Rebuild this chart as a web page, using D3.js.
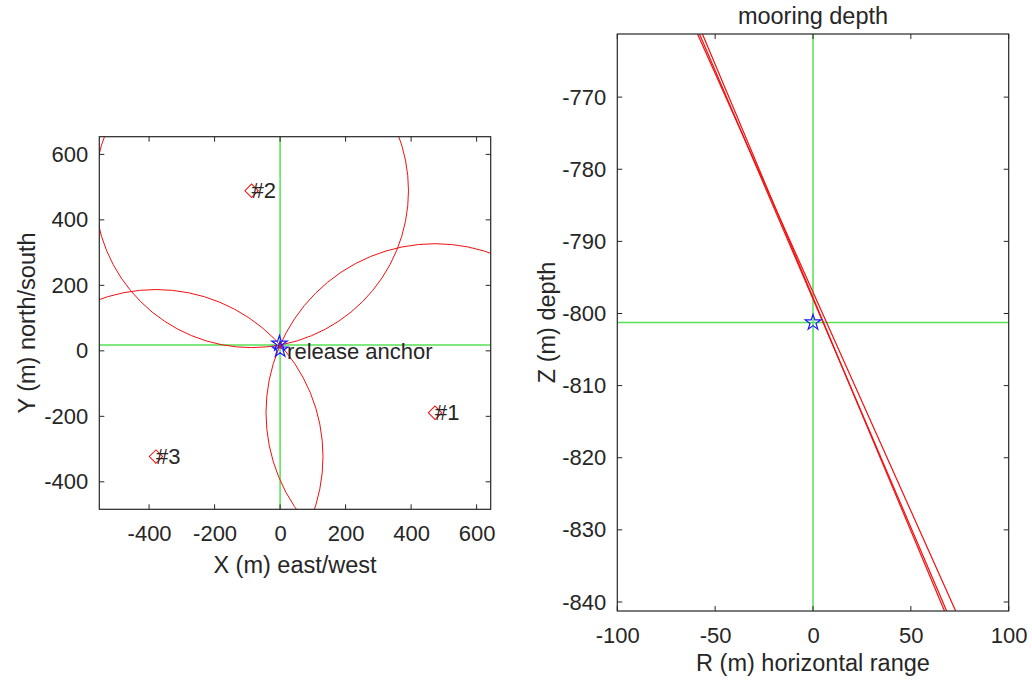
<!DOCTYPE html>
<html>
<head>
<meta charset="utf-8">
<script src="https://cdn.jsdelivr.net/npm/d3@7"></script>
<style>
  body { margin: 0; background: #fff; }
  text { font-family: "Liberation Sans", Arial, sans-serif; fill: #262626; }
</style>
</head>
<body>
<svg width="1032" height="683"></svg>
<script>
// left panel: transponder survey (plan view)
const xTicksL = [-400, -200, 0, 200, 400, 600];
const yTicksL = [-400, -200, 0, 200, 400, 600];
const tpNames = ['#1', '#2', '#3'];
const tpX = [473, -87, -379];
const tpY = [-189, 489, -323];
const tpRange = [516, 479, 510];
const anchorX = [-2, 0];
const anchorY = [22, 4];
const crossXY = [0, 17.7];

// right panel: mooring depth
const xTicksR = [-100, -50, 0, 50, 100];
const yTicksR = [-770, -780, -790, -800, -810, -820, -830, -840];
const lineTopX = [-59, -58, -56.5];
const lineBotX = [72.9, 68.3, 67.2];
const lineTopZ = -761.25;
const lineBotZ = -841.25;
const anchorR = 0;
const anchorZ = -801.25;

const red = '#f01010';
const green = '#55e055';
const blue = '#1a1aff';

const svg = d3.select('svg');

const xL = d3.scaleLinear().domain([-552, 643]).range([99.3, 490.7]);
const yL = d3.scaleLinear().domain([-484, 654]).range([509.3, 136.7]);
const xR = d3.scaleLinear().domain([-100, 100]).range([617.3, 1008.7]);
const yR = d3.scaleLinear().domain([-841.25, -761.25]).range([611, 34]);

function drawAxes(g, x, y, xt, yt) {
  const tl = 5;
  const y0 = y.range()[0], y1 = y.range()[1];
  const x0 = x.range()[0], x1 = x.range()[1];
  // labels (plain hyphen minus, like the original)
  g.append('g').attr('transform', `translate(0,${y0})`)
    .call(d3.axisBottom(x).tickValues(xt).tickSize(0).tickPadding(16).tickFormat(d => String(d)))
    .call(a => a.select('.domain').remove())
    .selectAll('text').style('font-size', '22px').attr('fill', '#262626');
  g.append('g').attr('transform', `translate(${x0},0)`)
    .call(d3.axisLeft(y).tickValues(yt).tickSize(0).tickPadding(11).tickFormat(d => String(d)))
    .call(a => a.select('.domain').remove())
    .selectAll('text').style('font-size', '22px').attr('fill', '#262626');
  // inward ticks on all four sides
  const tg = g.append('g').attr('stroke', '#262626').attr('stroke-width', 1);
  xt.forEach(v => {
    tg.append('line').attr('x1', x(v)).attr('x2', x(v)).attr('y1', y0).attr('y2', y0 - tl);
    tg.append('line').attr('x1', x(v)).attr('x2', x(v)).attr('y1', y1).attr('y2', y1 + tl);
  });
  yt.forEach(v => {
    tg.append('line').attr('y1', y(v)).attr('y2', y(v)).attr('x1', x0).attr('x2', x0 + tl);
    tg.append('line').attr('y1', y(v)).attr('y2', y(v)).attr('x1', x1).attr('x2', x1 - tl);
  });
  g.append('rect')
    .attr('x', x0).attr('y', y1)
    .attr('width', x1 - x0).attr('height', y0 - y1)
    .attr('fill', 'none').attr('stroke', '#262626').attr('stroke-width', 1.2);
}

function clip(id, x, y) {
  svg.append('clipPath').attr('id', id).append('rect')
    .attr('x', x.range()[0]).attr('y', y.range()[1])
    .attr('width', x.range()[1] - x.range()[0])
    .attr('height', y.range()[0] - y.range()[1]);
}
clip('clipL', xL, yL);
clip('clipR', xR, yR);

const star = d3.symbol().type(d3.symbolStar).size(75);
const diamond = d3.symbol().type(d3.symbolSquare).size(90);

// ---- left panel ----
const gL = svg.append('g');
const pL = gL.append('g').attr('clip-path', 'url(#clipL)');

pL.append('line').attr('x1', xL(crossXY[0])).attr('x2', xL(crossXY[0]))
  .attr('y1', yL.range()[0]).attr('y2', yL.range()[1])
  .attr('stroke', green).attr('stroke-width', 1.5);
pL.append('line').attr('y1', yL(crossXY[1])).attr('y2', yL(crossXY[1]))
  .attr('x1', xL.range()[0]).attr('x2', xL.range()[1])
  .attr('stroke', green).attr('stroke-width', 1.5);

const pxPerUnit = (xL.range()[1] - xL.range()[0]) / (xL.domain()[1] - xL.domain()[0]);
pL.selectAll('circle.range')
  .data(tpNames)
  .enter()
  .append('circle')
  .attr('class', 'range')
  .attr('cx', (d, i) => xL(tpX[i]))
  .attr('cy', (d, i) => yL(tpY[i]))
  .attr('r', (d, i) => tpRange[i] * pxPerUnit)
  .attr('fill', 'none')
  .attr('stroke', red)
  .attr('stroke-width', 1);

gL.selectAll('path.tp')
  .data(tpNames)
  .enter()
  .append('path')
  .attr('class', 'tp')
  .attr('d', diamond)
  .attr('transform', (d, i) => `translate(${xL(tpX[i])},${yL(tpY[i])}) rotate(45)`)
  .attr('fill', 'none')
  .attr('stroke', red)
  .attr('stroke-width', 1);

gL.selectAll('text.tp')
  .data(tpNames)
  .enter()
  .append('text')
  .attr('class', 'tp')
  .attr('x', (d, i) => xL(tpX[i]))
  .attr('y', (d, i) => yL(tpY[i]))
  .attr('dy', '0.35em')
  .style('font-size', '22px')
  .attr('fill', '#111')
  .text(d => d);

anchorX.forEach((v, i) => {
  gL.append('path').attr('d', star)
    .attr('transform', `translate(${xL(v)},${yL(anchorY[i])})`)
    .attr('fill', 'none').attr('stroke', blue).attr('stroke-width', 1.2);
});
gL.append('circle').attr('cx', xL(0)).attr('cy', yL(12)).attr('r', 1.5).attr('fill', red);

gL.append('text')
  .attr('x', xL(anchorX[1]) + 7)
  .attr('y', yL(anchorY[1]) + 2)
  .attr('dy', '0.35em')
  .style('font-size', '22px')
  .attr('fill', '#111')
  .text('release anchor');

drawAxes(gL, xL, yL, xTicksL, yTicksL);

gL.append('text')
  .attr('x', (xL.range()[0] + xL.range()[1]) / 2)
  .attr('y', 573)
  .attr('text-anchor', 'middle')
  .style('font-size', '23.5px')
  .text('X (m) east/west');
gL.append('text')
  .attr('transform', `translate(35,${(yL.range()[0] + yL.range()[1]) / 2}) rotate(-90)`)
  .attr('text-anchor', 'middle')
  .style('font-size', '23.5px')
  .text('Y (m) north/south');

// ---- right panel ----
const gR = svg.append('g');
const pR = gR.append('g').attr('clip-path', 'url(#clipR)');

pR.append('line').attr('x1', xR(anchorR)).attr('x2', xR(anchorR))
  .attr('y1', yR.range()[0]).attr('y2', yR.range()[1])
  .attr('stroke', green).attr('stroke-width', 1.5);
pR.append('line').attr('y1', yR(anchorZ)).attr('y2', yR(anchorZ))
  .attr('x1', xR.range()[0]).attr('x2', xR.range()[1])
  .attr('stroke', green).attr('stroke-width', 1.5);

pR.selectAll('line.slant')
  .data(lineTopX)
  .enter()
  .append('line')
  .attr('class', 'slant')
  .attr('x1', d => xR(d))
  .attr('y1', yR(lineTopZ))
  .attr('x2', (d, i) => xR(lineBotX[i]))
  .attr('y2', yR(lineBotZ))
  .attr('stroke', red)
  .attr('stroke-width', 1.2);

gR.append('path').attr('d', star)
  .attr('transform', `translate(${xR(anchorR)},${yR(anchorZ)})`)
  .attr('fill', 'none').attr('stroke', blue).attr('stroke-width', 1.2);

drawAxes(gR, xR, yR, xTicksR, yTicksR);

gR.append('text')
  .attr('x', (xR.range()[0] + xR.range()[1]) / 2)
  .attr('y', 24)
  .attr('text-anchor', 'middle')
  .style('font-size', '23.5px')
  .text('mooring depth');
gR.append('text')
  .attr('x', (xR.range()[0] + xR.range()[1]) / 2)
  .attr('y', 671)
  .attr('text-anchor', 'middle')
  .style('font-size', '23.5px')
  .text('R (m) horizontal range');
gR.append('text')
  .attr('transform', `translate(555,${(yR.range()[0] + yR.range()[1]) / 2}) rotate(-90)`)
  .attr('text-anchor', 'middle')
  .style('font-size', '23.5px')
  .text('Z (m) depth');
</script>
</body>
</html>
